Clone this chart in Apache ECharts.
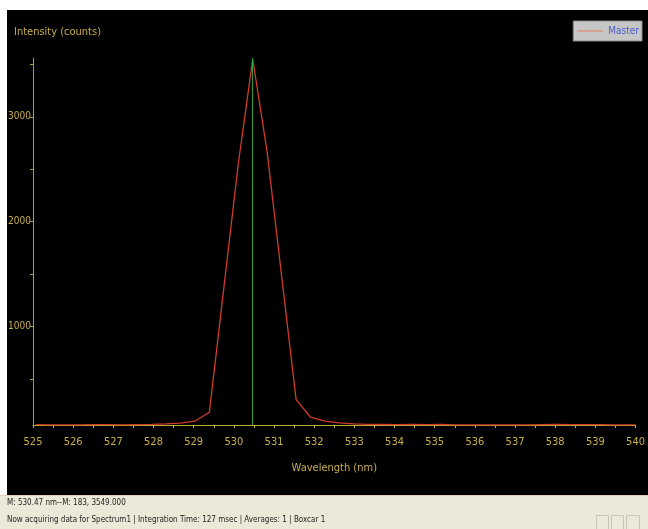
<!DOCTYPE html>
<html>
<head>
<meta charset="utf-8">
<script src="https://cdn.jsdelivr.net/npm/echarts@6/dist/echarts.min.js"></script>
<style>
html,body{margin:0;padding:0;background:#fff;}
#chart{width:648px;height:529px;}
</style>
</head>
<body>
<div id="chart"></div>
<script>
// Wavelength (nm) of each spectrometer pixel
var wavelengths = [525.07, 525.43, 525.79, 526.15, 526.51, 526.87, 527.23, 527.59, 527.95, 528.31,
  528.67, 529.03, 529.39, 529.75, 530.11, 530.47, 530.83, 531.19, 531.55, 531.91,
  532.27, 532.63, 532.99, 533.35, 533.71, 534.07, 534.43, 534.79, 535.15, 535.51,
  535.87, 536.23, 536.59, 536.95, 537.31, 537.67, 538.03, 538.39, 538.75, 539.11,
  539.47, 539.83, 540.0];
// Intensity (counts) of the "Master" spectrum
var intensities = [66, 64, 63, 64, 66, 65, 64, 66, 68, 72,
  80, 98, 183, 1366, 2550, 3549, 2661, 1480, 304, 136,
  98, 82, 72, 68, 67, 66, 67, 66, 67, 64,
  63, 64, 63, 64, 63, 66, 67, 66, 65, 66,
  63, 63, 63];
var seriesName = 'Master';
var markerWavelength = 530.47;
var xTickMin = 525, xTickMax = 540, xTickStep = 1;
var yMin = 62, yMax = 3560;
var yTickValues = [500, 1000, 1500, 2000, 2500, 3000, 3500];
var yLabelValues = [1000, 2000, 3000];
var yAxisTitle = 'Intensity (counts)';
var xAxisTitle = 'Wavelength (nm)';
var statusLine1 = 'M: 530.47 nm--M: 183, 3549.000';
var statusLine2 = 'Now acquiring data for Spectrum1 | Integration Time: 127 msec | Averages: 1 | Boxcar 1';

var FONT = "'Liberation Sans Narrow', 'DejaVu Sans Condensed', 'Liberation Sans', sans-serif";
var data = wavelengths.map(function (w, i) { return [w, intensities[i]]; });

var chart = echarts.init(document.getElementById('chart'), null, {renderer: 'canvas'});
chart.setOption({
  backgroundColor: '#000',
  animation: false,
  grid: {left: 33, right: 11, top: 58, bottom: 104, containLabel: false},
  legend: {
    right: 6, top: 21,
    padding: [5, 3, 5, 4],
    backgroundColor: '#c6c6c6',
    borderColor: '#8a8a8a', borderWidth: 1,
    itemWidth: 26, itemHeight: 10, itemGap: 4,
    textStyle: {color: '#4a5fd0', fontSize: 10, fontFamily: FONT},
    data: [{name: seriesName, icon: 'path://M0,4.5 L26,4.5 L26,5.5 L0,5.5 Z',
            itemStyle: {color: '#e8805a'}}]
  },
  xAxis: {
    type: 'value', min: xTickMin, max: xTickMax, interval: xTickStep,
    name: xAxisTitle, nameLocation: 'middle', nameGap: 38,
    nameTextStyle: {color: '#c8ae4a', fontSize: 11, fontFamily: FONT},
    axisLine: {show: true, lineStyle: {color: '#b9ad3c', width: 1}},
    axisTick: {show: true, inside: false, length: 3, lineStyle: {color: '#b9ad3c'}},
    minorTick: {show: true, splitNumber: 2, length: 3, lineStyle: {color: '#b9ad3c'}},
    axisLabel: {color: '#c8ae4a', fontSize: 11, fontFamily: FONT, margin: 12},
    splitLine: {show: false}
  },
  yAxis: {
    type: 'value', min: yMin, max: yMax,
    axisLine: {show: true, lineStyle: {color: '#a89e3a', width: 1}},
    axisTick: {show: true, length: 3, customValues: yTickValues, lineStyle: {color: '#a89e3a'}},
    axisLabel: {color: '#c8ae4a', fontSize: 10, fontFamily: FONT, margin: 2,
                customValues: yLabelValues, formatter: function (v) { return String(v); }},
    splitLine: {show: false}
  },
  series: [{
    name: seriesName,
    type: 'line',
    data: data,
    showSymbol: false,
    symbol: 'none',
    lineStyle: {color: '#d03c2a', width: 1.3},
    itemStyle: {color: '#d03c2a'},
    markLine: {
      silent: true, symbol: 'none', label: {show: false},
      itemStyle: {color: '#2f9e3a'},
      lineStyle: {color: '#2f9e3a', width: 1, type: 'solid', opacity: 1},
      emphasis: {disabled: true},
      data: [{xAxis: markerWavelength, lineStyle: {color: '#2f9e3a'}}]
    }
  }],
  graphic: [
    {type: 'rect', shape: {x: 0, y: 0, width: 648, height: 10}, style: {fill: '#fff'}},
    {type: 'rect', shape: {x: 0, y: 0, width: 7, height: 529}, style: {fill: '#fff'}},
    {type: 'rect', shape: {x: 0, y: 495, width: 648, height: 34}, style: {fill: '#ece9d8'}},
    {type: 'rect', shape: {x: 0, y: 495, width: 648, height: 1}, style: {fill: '#e8c8b8'}},
    {type: 'text', x: 14, y: 27, style: {text: yAxisTitle, fill: '#c8ae4a', font: '11px ' + FONT}},
    {type: 'text', x: 7, y: 499, style: {text: statusLine1, fill: '#222', font: '8px ' + FONT}},
    {type: 'text', x: 7, y: 516, style: {text: statusLine2, fill: '#222', font: '8px ' + FONT}},
    {type: 'rect', shape: {x: 596.5, y: 515.5, width: 12, height: 14}, style: {fill: 'none', stroke: '#c9c5b4'}},
    {type: 'rect', shape: {x: 611.5, y: 515.5, width: 12, height: 14}, style: {fill: 'none', stroke: '#c9c5b4'}},
    {type: 'rect', shape: {x: 626.5, y: 515.5, width: 13, height: 14}, style: {fill: 'none', stroke: '#c9c5b4'}}
  ]
});
</script>
</body>
</html>
